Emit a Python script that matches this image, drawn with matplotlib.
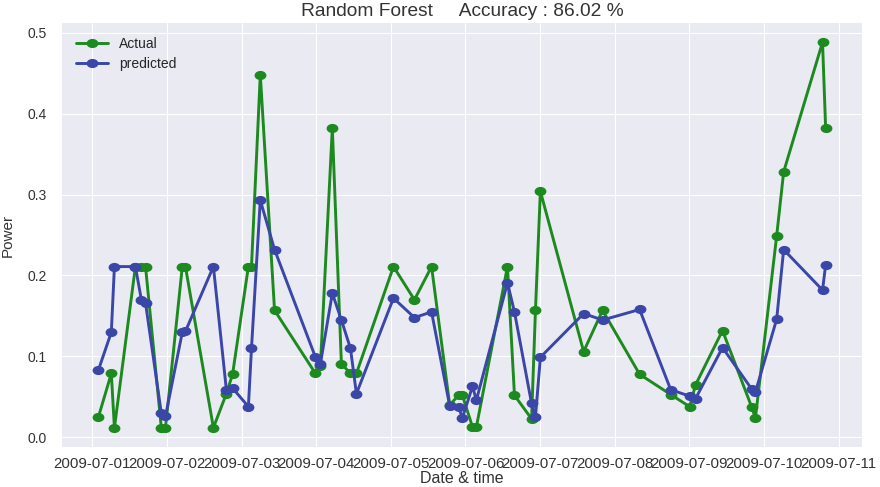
import pandas as pd
import matplotlib
matplotlib.use('Agg')
import matplotlib.pyplot as plt
import matplotlib.dates as mdates
from matplotlib.path import Path
from matplotlib.transforms import Affine2D

# timestamps of the test samples
times = ['2009-07-01 01:55', '2009-07-01 06:05', '2009-07-01 07:05', '2009-07-01 13:50',
         '2009-07-01 15:45', '2009-07-01 17:05', '2009-07-01 22:10', '2009-07-01 23:30',
         '2009-07-02 04:55', '2009-07-02 05:55', '2009-07-02 14:55', '2009-07-02 19:05',
         '2009-07-02 21:05',
         '2009-07-03 02:10', '2009-07-03 03:10', '2009-07-03 06:00', '2009-07-03 10:35',
         '2009-07-03 23:45',
         '2009-07-04 01:20', '2009-07-04 05:10', '2009-07-04 08:05', '2009-07-04 11:00',
         '2009-07-04 12:55',
         '2009-07-05 00:50', '2009-07-05 07:35', '2009-07-05 13:05', '2009-07-05 18:55',
         '2009-07-05 21:45', '2009-07-05 23:00',
         '2009-07-06 02:15', '2009-07-06 03:30', '2009-07-06 13:30', '2009-07-06 15:45',
         '2009-07-06 21:15', '2009-07-06 22:30',
         '2009-07-07 00:05', '2009-07-07 14:00', '2009-07-07 20:05', '2009-07-08 08:00',
         '2009-07-08 18:00',
         '2009-07-09 00:05', '2009-07-09 02:00', '2009-07-09 10:40', '2009-07-09 20:00',
         '2009-07-09 21:15',
         '2009-07-10 04:05', '2009-07-10 06:20', '2009-07-10 18:50', '2009-07-10 19:50']

actual = [0.025, 0.079, 0.012, 0.211, 0.211, 0.211, 0.012, 0.012,
          0.211, 0.211, 0.012, 0.054, 0.078,
          0.211, 0.211, 0.448, 0.157, 0.079,
          0.088, 0.382, 0.091, 0.079, 0.079,
          0.211, 0.170, 0.211, 0.040, 0.052, 0.052,
          0.013, 0.013, 0.211, 0.052, 0.023, 0.157,
          0.304, 0.106, 0.157, 0.078, 0.053,
          0.038, 0.065, 0.132, 0.038, 0.024,
          0.249, 0.328, 0.488, 0.382]

predicted = [0.083, 0.130, 0.211, 0.211, 0.170, 0.166, 0.030, 0.026,
             0.130, 0.131, 0.211, 0.059, 0.061,
             0.038, 0.110, 0.293, 0.232, 0.099,
             0.091, 0.178, 0.145, 0.110, 0.054,
             0.172, 0.148, 0.155, 0.039, 0.038, 0.024,
             0.063, 0.046, 0.191, 0.155, 0.042, 0.025,
             0.099, 0.153, 0.145, 0.158, 0.059,
             0.051, 0.048, 0.111, 0.060, 0.056,
             0.146, 0.232, 0.182, 0.213]

accuracy = 86.02

plt.style.use('seaborn-v0_8-darkgrid')
plt.rcParams['font.family'] = ['Liberation Sans', 'DejaVu Sans']

df = pd.DataFrame({'Actual': actual, 'predicted': predicted}, index=pd.to_datetime(times))

# markers in the picture are a bit wider than tall
ellipse = Path.unit_circle().transformed(Affine2D().scale(1.35, 1.0))

fig = plt.figure(figsize=(8.8, 4.87), dpi=100)
ax = fig.add_axes([62 / 880, 40 / 487, 800 / 880, 424 / 487])

ax.plot(df.index, df['Actual'], color='#1c8a1f', marker=ellipse, markersize=7.5,
        linewidth=2.1, label='Actual')
ax.plot(df.index, df['predicted'], color='#3a46a8', marker=ellipse, markersize=7.5,
        linewidth=2.1, label='predicted')

ax.xaxis.set_major_locator(mdates.DayLocator())
ax.xaxis.set_major_formatter(mdates.DateFormatter('%Y-%m-%d'))
ax.tick_params(axis='x', labelsize=10.8, colors='#333333', pad=7)
ax.tick_params(axis='y', labelsize=10, colors='#333333', pad=11)

ax.set_title('Random Forest     Accuracy : %.2f %%' % accuracy, fontsize=13.8,
             color='#333333', pad=5)
ax.set_xlabel('Date & time', fontsize=11.5, color='#333333', labelpad=0)
ax.set_ylabel('Power', fontsize=11, color='#333333', labelpad=9)
ax.legend(loc='upper left', fontsize=10, frameon=False, handlelength=2.3,
          labelspacing=0.45, borderaxespad=0.6)

fig.savefig('out.png', dpi=100)
